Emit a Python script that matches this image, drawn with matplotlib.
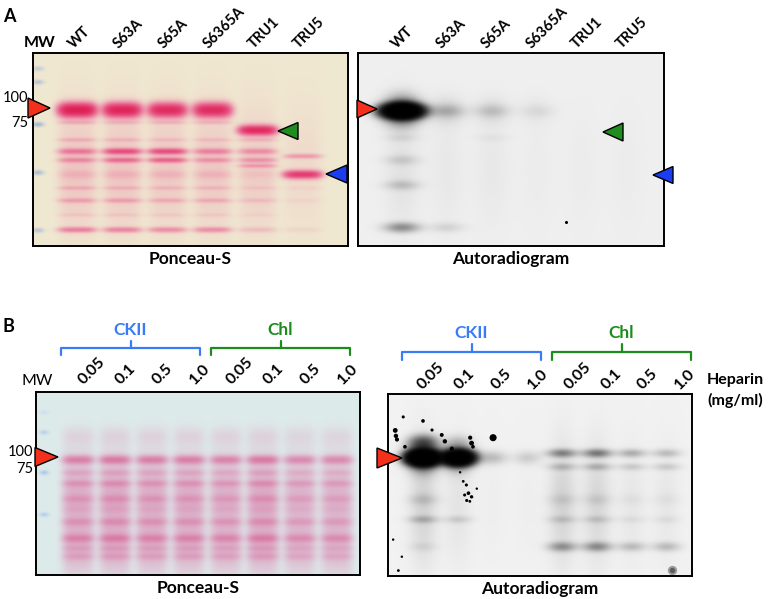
import numpy as np
import matplotlib
matplotlib.use("Agg")
import matplotlib.pyplot as plt
from matplotlib.patches import Polygon
from matplotlib.transforms import ScaledTranslation, blended_transform_factory

plt.rcParams['font.family'] = ['Lato', 'DejaVu Sans']

W, H = 770, 599

# ---------------- data ----------------
mutant_lanes = ["WT", "S63A", "S65A", "S6365A", "TRU1", "TRU5"]
heparin_lanes = ["0.05", "0.1", "0.5", "1.0", "0.05", "0.1", "0.5", "1.0"]
kinases = ["CKII", "Chl"]
mw_marks = ["100", "75"]

# band rows are fractions of gel height (0 = top), one density per lane
# Ponceau-S, panel A
pa_rows = [0.295, 0.36, 0.40, 0.45, 0.51, 0.535, 0.555, 0.585, 0.63, 0.70, 0.765, 0.84, 0.917, 0.60]
pa_width = [0.035, 0.010, 0.024, 0.010, 0.015, 0.012, 0.013, 0.010, 0.020, 0.010, 0.012, 0.010, 0.014, 0.30]
pa_dens = [
    [1.20, 1.10, 1.00, 1.00, 0.0, 0.0],
    [0.12, 0.10, 0.10, 0.10, 0.0, 0.0],
    [0.0, 0.0, 0.0, 0.0, 1.00, 0.0],
    [0.12, 0.10, 0.08, 0.08, 0.10, 0.0],
    [0.35, 0.60, 0.60, 0.30, 0.25, 0.0],
    [0.0, 0.0, 0.0, 0.0, 0.0, 0.22],
    [0.25, 0.40, 0.45, 0.22, 0.22, 0.0],
    [0.0, 0.0, 0.0, 0.0, 0.20, 0.0],
    [0.08, 0.08, 0.08, 0.08, 0.04, 0.80],
    [0.12, 0.10, 0.09, 0.09, 0.05, 0.03],
    [0.18, 0.18, 0.14, 0.14, 0.08, 0.03],
    [0.06, 0.06, 0.05, 0.05, 0.03, 0.0],
    [0.35, 0.32, 0.28, 0.28, 0.10, 0.04],
    [0.10, 0.10, 0.09, 0.09, 0.08, 0.04],
]
mw_a_rows = [0.08, 0.15, 0.28, 0.37, 0.62, 0.92]
mw_a_dens = [0.35, 0.45, 0.55, 0.65, 0.55, 0.45]

# Autoradiogram, panel A
ra_rows = [0.30, 0.30, 0.44, 0.555, 0.685, 0.905, 0.60]
ra_width = [0.032, 0.07, 0.02, 0.025, 0.025, 0.025, 0.30]
ra_dens = [
    [2.6, 0.06, 0.04, 0.015, 0.0, 0.0],
    [0.25, 0.03, 0.02, 0.01, 0.0, 0.0],
    [0.02, 0.0, 0.01, 0.0, 0.0, 0.0],
    [0.035, 0.0, 0.0, 0.0, 0.0, 0.0],
    [0.05, 0.0, 0.0, 0.0, 0.0, 0.0],
    [0.13, 0.03, 0.0, 0.0, 0.0, 0.0],
    [0.015, 0.008, 0.008, 0.004, 0.004, 0.004],
]

# Ponceau-S, panel B
pb_rows = [0.24, 0.37, 0.44, 0.50, 0.585, 0.64, 0.71, 0.80, 0.855, 0.90, 0.55, 0.85]
pb_width = [0.05, 0.024, 0.018, 0.018, 0.022, 0.024, 0.022, 0.022, 0.015, 0.02, 0.20, 0.15]
pb_dens = [
    [0.12, 0.12, 0.12, 0.12, 0.12, 0.12, 0.10, 0.10],
    [0.70, 0.75, 0.70, 0.70, 0.65, 0.75, 0.60, 0.60],
    [0.20, 0.22, 0.20, 0.20, 0.18, 0.22, 0.16, 0.16],
    [0.30, 0.34, 0.30, 0.30, 0.28, 0.34, 0.26, 0.26],
    [0.26, 0.30, 0.26, 0.26, 0.24, 0.30, 0.21, 0.21],
    [0.12, 0.14, 0.12, 0.12, 0.12, 0.14, 0.10, 0.10],
    [0.32, 0.35, 0.32, 0.32, 0.30, 0.35, 0.27, 0.27],
    [0.42, 0.46, 0.42, 0.42, 0.40, 0.46, 0.37, 0.37],
    [0.15, 0.17, 0.15, 0.15, 0.15, 0.17, 0.13, 0.13],
    [0.20, 0.22, 0.20, 0.20, 0.20, 0.22, 0.17, 0.17],
    [0.42, 0.45, 0.42, 0.42, 0.40, 0.45, 0.37, 0.37],
    [0.40, 0.42, 0.40, 0.40, 0.38, 0.42, 0.35, 0.35],
]
mw_b_rows = [0.11, 0.22, 0.44, 0.67]
mw_b_dens = [0.15, 0.35, 0.50, 0.40]

# Autoradiogram, panel B
rb_rows = [0.35, 0.35, 0.27, 0.325, 0.40, 0.58, 0.69, 0.84, 0.60]
rb_width = [0.035, 0.07, 0.04, 0.022, 0.020, 0.030, 0.020, 0.025, 0.32]
rb_dens = [
    [3.0, 2.3, 0.06, 0.04, 0.0, 0.0, 0.0, 0.0],
    [0.30, 0.15, 0.0, 0.0, 0.0, 0.0, 0.0, 0.0],
    [0.25, 0.05, 0.0, 0.0, 0.0, 0.0, 0.0, 0.0],
    [0.0, 0.0, 0.0, 0.0, 0.15, 0.17, 0.08, 0.06],
    [0.0, 0.0, 0.0, 0.0, 0.06, 0.07, 0.04, 0.04],
    [0.04, 0.0, 0.0, 0.0, 0.025, 0.025, 0.01, 0.01],
    [0.07, 0.035, 0.0, 0.0, 0.04, 0.04, 0.015, 0.015],
    [0.02, 0.0, 0.0, 0.0, 0.12, 0.13, 0.06, 0.06],
    [0.035, 0.015, 0.004, 0.004, 0.035, 0.03, 0.012, 0.012],
]
# radioactive specks on the panel B film (lane units, row, size)
speck_lane = [-0.57, 0.0, 0.26, 0.54, -0.80, -0.78, -0.75, -0.52, 0.63, 0.83, 1.36, 1.40, 1.44,
              2.02, 1.07, 1.16, 1.25, 1.31, 1.40, 1.26, 1.55, 1.20, 1.35, -0.86, -0.61, -0.71]
speck_row = [0.126, 0.148, 0.198, 0.225, 0.20, 0.23, 0.25, 0.29, 0.26, 0.30, 0.24, 0.27, 0.29,
             0.24, 0.43, 0.48, 0.50, 0.545, 0.565, 0.585, 0.52, 0.555, 0.59, 0.80, 0.894, 0.97]
speck_size = [5, 7, 5, 8, 12, 10, 9, 7, 10, 9, 9, 12, 7,
              26, 3, 4, 5, 7, 6, 5, 3, 5, 4, 3, 3, 4]
spot_lane, spot_row = [7.18], [0.965]
film_dot_lane, film_dot_row = [3.64], [0.876]

# ---------------- figure ----------------
fig = plt.figure(figsize=(W / 100, H / 100), dpi=100)
fig.patch.set_facecolor("white")


def gel_axes(box, off, step):
    l, t, r, b = box
    ax = fig.add_axes([l / W, 1 - b / H, (r - l) / W, (b - t) / H])
    ax.set_xlim(-off / step, (r - l - off) / step)
    ax.set_ylim(1, 0)
    ax.set_xticks([])
    ax.set_yticks([])
    for s in ax.spines.values():
        s.set_linewidth(1.4)
    return ax


def render(ax, rows, widths, dens, lane_w, lane_p, bg, ink, mw=None):
    x0, x1 = ax.get_xlim()
    pos = ax.get_position()
    nx, ny = int(pos.width * W * 2), int(pos.height * H * 2)
    X, Y = np.meshgrid(np.linspace(x0, x1, nx), np.linspace(0, 1, ny))
    D = np.zeros((ny, nx))
    for r, w, d in zip(rows, widths, dens):
        yprof = np.exp(-((Y - r) / w) ** 2)
        for i, a in enumerate(d):
            if a:
                D += a * yprof * np.exp(-np.abs((X - i) / lane_w) ** lane_p)
    img = np.array(bg) * np.array(ink) ** D[..., None]
    if mw is not None:
        mx, mrows, mdens, mink = mw
        M = np.zeros((ny, nx))
        for r, a in zip(mrows, mdens):
            M += a * np.exp(-((Y - r) / 0.012) ** 2 - ((X - mx) / 0.12) ** 2)
        img = img * np.array(mink) ** M[..., None]
    ax.imshow(np.clip(img, 0, 1), extent=(x0, x1, 1, 0), aspect="auto",
              interpolation="bilinear")


def lane_labels(ax, labels, dx, gap, stretch=1.0, size=10.5):
    tr = blended_transform_factory(ax.transData, ax.transAxes)
    tr = tr + ScaledTranslation(dx / 100, gap / 100, fig.dpi_scale_trans)
    for i, lab in enumerate(labels):
        ax.text(i * stretch, 1, lab, transform=tr, rotation=45, rotation_mode="anchor",
                ha="left", va="baseline", fontsize=size, fontweight="bold")


def caption(ax, text):
    ax.text(0.5, -0.028, text, transform=ax.transAxes, ha="center", va="top",
            fontsize=12.5, fontweight="bold")


# panel A
ax_pa = gel_axes((33, 53, 348, 246), 44, 45)
render(ax_pa, pa_rows, pa_width, pa_dens, 0.42, 4, (0.94, 0.91, 0.82), (0.94, 0.2, 0.47),
       mw=(-0.87, mw_a_rows, mw_a_dens, (0.55, 0.68, 1.0)))
lane_labels(ax_pa, mutant_lanes, -3, 4)
caption(ax_pa, "Ponceau-S")

ax_ra = gel_axes((358, 53, 664, 246), 44, 45)
render(ax_ra, ra_rows, ra_width, ra_dens, 0.36, 2, (0.94, 0.94, 0.94), (0.02, 0.02, 0.02))
ax_ra.scatter(film_dot_lane, film_dot_row, s=5, c="k", lw=0)
lane_labels(ax_ra, mutant_lanes, -5, 4)
caption(ax_ra, "Autoradiogram")

# panel B
ax_pb = gel_axes((36, 392, 360, 575), 42, 37)
render(ax_pb, pb_rows, pb_width, pb_dens, 0.43, 4, (0.87, 0.92, 0.92), (0.98, 0.5, 0.68),
       mw=(-0.92, mw_b_rows, mw_b_dens, (0.6, 0.72, 1.0)))
lane_labels(ax_pb, heparin_lanes, 6, 7, size=11.5)
caption(ax_pb, "Ponceau-S")

ax_rb = gel_axes((388, 394, 692, 576), 35, 34.7)
render(ax_rb, rb_rows, rb_width, rb_dens, 0.38, 2, (0.95, 0.95, 0.95), (0.02, 0.02, 0.02))
ax_rb.scatter(speck_lane, speck_row, s=speck_size, c="k", lw=0)
ax_rb.scatter(spot_lane, spot_row, s=45, c="k", alpha=0.35, lw=0)
ax_rb.scatter(spot_lane, spot_row, s=15, c="k", alpha=0.4, lw=0)
lane_labels(ax_rb, heparin_lanes, 0, 4, stretch=1.057, size=11.5)
caption(ax_rb, "Autoradiogram")

# ---------------- annotations (figure pixels) ----------------
ov = fig.add_axes([0, 0, 1, 1], zorder=10)
ov.set_xlim(0, W)
ov.set_ylim(H, 0)
ov.axis("off")
ov.patch.set_alpha(0)


def arrow(tip_x, tip_y, color, pointing="right", w=21, h=20):
    back = tip_x - w if pointing == "right" else tip_x + w
    ov.add_patch(Polygon([(tip_x, tip_y), (back, tip_y - h / 2), (back, tip_y + h / 2)],
                         closed=True, fc=color, ec="black", lw=1.0, joinstyle="miter"))


red, green, blue = "#f2301c", "#1e8c1e", "#1c3cf0"
arrow(50, 108, red, w=22, h=20)
arrow(278, 131, green, "left", w=20, h=17)
arrow(326, 174, blue, "left", w=21, h=18)
arrow(377, 109, red, w=20, h=18)
arrow(603, 132, green, "left", w=20, h=18)
arrow(653, 175, blue, "left", w=20, h=17)
arrow(58, 457, red, w=23, h=19)
arrow(402, 458, red, w=25, h=20)

ov.text(3, 16, "A", fontsize=13, fontweight="bold", va="center")
ov.text(3, 327, "B", fontsize=13, fontweight="bold", va="center")
ov.text(40, 43, "MW", fontsize=11.5, fontweight="bold", ha="center", va="center")
ov.text(37, 381, "MW", fontsize=11.5, ha="center", va="center")
for lab, y in zip(mw_marks, [98, 123]):
    ov.text(28, y, lab, fontsize=10.5, ha="right", va="center")
for lab, y in zip(mw_marks, [452, 469]):
    ov.text(33, y, lab, fontsize=10.5, ha="right", va="center")

ov.text(707, 380, "Heparin", fontsize=11.5, fontweight="bold", ha="left", va="center")
ov.text(707, 400, "(mg/ml)", fontsize=11.5, fontweight="bold", ha="left", va="center")


def bracket(x0, x1, y_end, y_bar, y_top, color, label, label_y):
    xm = (x0 + x1) / 2
    ov.plot([x0, x0, x1, x1], [y_end, y_bar, y_bar, y_end], color=color, lw=1.6,
            solid_joinstyle="round", solid_capstyle="round")
    ov.plot([xm, xm], [y_bar, y_top], color=color, lw=1.6, solid_capstyle="round")
    ov.text(xm, label_y, label, color=color, fontsize=12.5, fontweight="bold",
            ha="center", va="center")


ckii_col, chl_col = "#3a7cf6", "#1c8c1c"
bracket(61, 200, 355, 348, 341, ckii_col, kinases[0], 330)
bracket(211, 350, 355, 348, 341, chl_col, kinases[1], 330)
bracket(402, 541, 360, 352, 344, ckii_col, kinases[0], 333)
bracket(552, 691, 360, 352, 344, chl_col, kinases[1], 333)

fig.savefig("out.png", dpi=100, facecolor="white")
